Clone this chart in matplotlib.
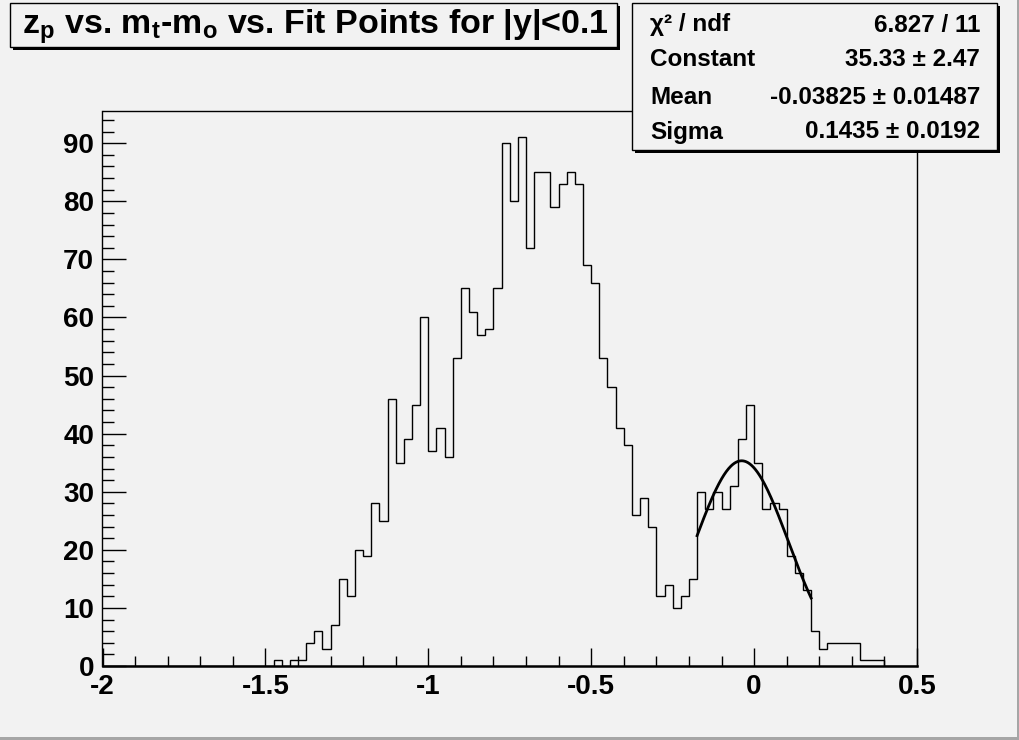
import numpy as np
import matplotlib
matplotlib.use("Agg")
import matplotlib.pyplot as plt
from matplotlib.patches import Rectangle
from matplotlib.ticker import MultipleLocator

plt.rcParams['font.family'] = ['Liberation Sans', 'DejaVu Sans']
plt.rcParams['font.weight'] = 'bold'
plt.rcParams['axes.unicode_minus'] = False
plt.rcParams['mathtext.fontset'] = 'custom'
plt.rcParams['mathtext.rm'] = 'Liberation Sans:bold'
plt.rcParams['mathtext.it'] = 'Liberation Sans:bold'
plt.rcParams['mathtext.bf'] = 'Liberation Sans:bold'

# histogram: 100 bins of 0.025 from -2 to 0.5
x_min, x_max, n_bins = -2.0, 0.5, 100
counts = [0] * 20 + [
    0, 1, 0, 1, 1, 4, 6, 3, 7, 15,
    12, 20, 19, 28, 25, 46, 35, 39, 45, 60,
    37, 41, 36, 53, 65, 61, 57, 58, 65, 90,
    80, 91, 72, 85, 85, 79, 83, 85, 83, 69,
    66, 53, 48, 41, 38, 26, 29, 24, 12, 14,
    10, 12, 15, 30, 27, 30, 27, 31, 39, 45,
    35, 27, 28, 27, 19, 16, 13, 6, 3, 4,
    4, 4, 4, 1, 1, 1, 0, 0, 0, 0,
]

# gaussian fit
fit_constant, fit_mean, fit_sigma = 35.33, -0.03825, 0.1435
fit_range = (-0.175, 0.175)

title = r'z$_\mathrm{p}$ vs. m$_\mathrm{t}$-m$_\mathrm{o}$ vs. Fit Points for |y|<0.1'
stat_names = ['\u03c7\u00b2 / ndf', 'Constant', 'Mean', 'Sigma']
stat_values = ['6.827 / 11', '35.33 \u00b1 2.47', '-0.03825 \u00b1 0.01487', '0.1435 \u00b1 0.0192']

W, H = 1020, 740
bg = '#f2f2f2'
fig = plt.figure(figsize=(W / 100, H / 100), dpi=100, facecolor=bg)


def fx(px):
    return px / W


def fy(py):
    return 1 - py / H


ax = fig.add_axes([fx(102.5), fy(666), fx(917) - fx(102.5), fy(111) - fy(666)])
ax.set_facecolor(bg)

edges = np.linspace(x_min, x_max, n_bins + 1)
ax.stairs(counts, edges, color='black', lw=1.0)

xf = np.linspace(fit_range[0], fit_range[1], 200)
yf = fit_constant * np.exp(-0.5 * ((xf - fit_mean) / fit_sigma) ** 2)
ax.plot(xf, yf, color='black', lw=2.0)

ax.set_xlim(x_min, x_max)
ax.set_ylim(0, max(counts) * 1.05)

ax.xaxis.set_major_locator(MultipleLocator(0.5))
ax.xaxis.set_minor_locator(MultipleLocator(0.1))
ax.yaxis.set_major_locator(MultipleLocator(10))
ax.yaxis.set_minor_locator(MultipleLocator(2))
ax.xaxis.set_major_formatter(plt.FuncFormatter(lambda v, p: f'{v:g}'))
ax.tick_params(axis='x', which='major', direction='in', length=13, width=1, labelsize=20, pad=5.5)
ax.tick_params(axis='x', which='minor', direction='in', length=7, width=1)
ax.tick_params(axis='y', which='major', direction='in', length=17, width=1, labelsize=20, pad=6)
ax.tick_params(axis='y', which='minor', direction='in', length=8.5, width=1)
for lab in ax.get_xticklabels() + ax.get_yticklabels():
    lab.set_fontweight('bold')
for s in ax.spines.values():
    s.set_linewidth(1.0)
ax.spines['bottom'].set_linewidth(1.8)


def pave(x0, y0, x1, y1):
    sh = 3
    fig.patches.append(Rectangle((fx(x0 + sh), fy(y1 + sh)), fx(x1 - x0), fy(y0) - fy(y1),
                                 transform=fig.transFigure, facecolor='black', edgecolor='none'))
    fig.patches.append(Rectangle((fx(x0), fy(y1)), fx(x1 - x0), fy(y0) - fy(y1),
                                 transform=fig.transFigure, facecolor=bg, edgecolor='black', lw=1))


pave(10, 3, 617, 47)
fig.text(fx(315), fy(27), title, ha='center', va='center', fontsize=24.5, fontweight='bold')

pave(632, 3, 997, 150)
rows_y = [25, 60, 97, 132]
for name, val, yy in zip(stat_names, stat_values, rows_y):
    fig.text(fx(650), fy(yy), name, ha='left', va='center', fontsize=17.5, fontweight='bold')
    fig.text(fx(980), fy(yy), val, ha='right', va='center', fontsize=17.5, fontweight='bold')

# canvas bevel
fig.patches.append(Rectangle((fx(W - 3), 0), fx(3), 1, transform=fig.transFigure,
                             facecolor='#a6a6a6', edgecolor='none'))
fig.patches.append(Rectangle((0, 0), 1, 3 / H, transform=fig.transFigure,
                             facecolor='#a6a6a6', edgecolor='none'))

fig.savefig('out.png', dpi=100, facecolor=bg)
